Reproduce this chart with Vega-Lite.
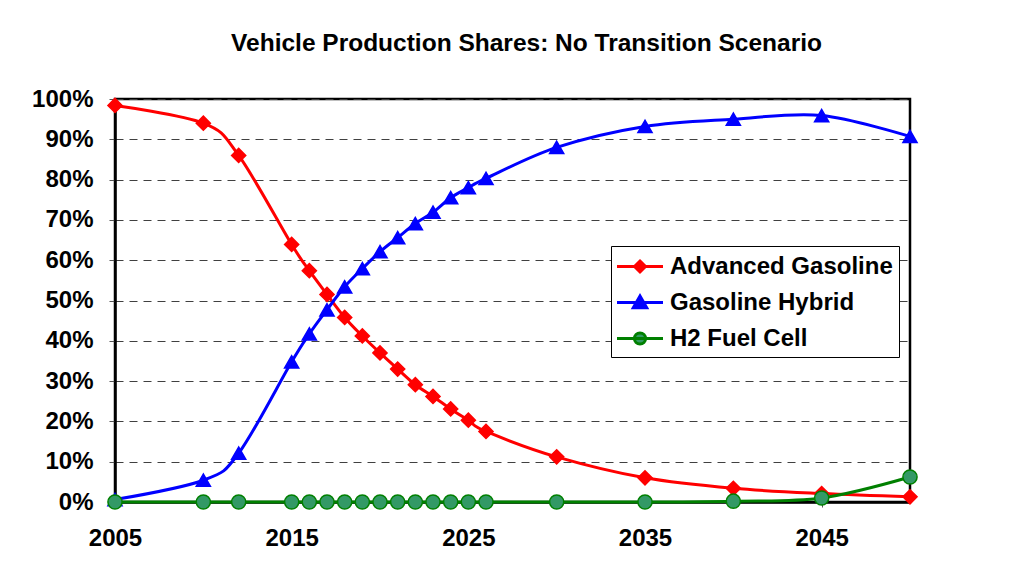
{
  "$schema": "https://vega.github.io/schema/vega-lite/v6.json",
  "width": 795,
  "height": 403,
  "autosize": {"type": "none"},
  "padding": {"left": 115, "top": 99, "right": 124, "bottom": 76},
  "background": "white",
  "title": {
    "text": "Vehicle Production Shares: No Transition Scenario",
    "font": "Liberation Sans",
    "fontSize": 24.5,
    "fontWeight": "bold",
    "color": "black",
    "anchor": "middle",
    "offset": 31,
    "dx": 14
  },
  "config": {
    "view": {"stroke": "black", "strokeWidth": 2.5},
    "axis": {
      "labelFont": "Liberation Sans",
      "labelFontSize": 24,
      "labelFontWeight": "bold",
      "labelColor": "black",
      "domainColor": "black",
      "domainWidth": 2.5,
      "tickColor": "#555555",
      "tickWidth": 1
    }
  },
  "data": {
    "values": [
      {"year": 2005, "series": "Advanced Gasoline", "share": 98.4},
      {"year": 2010, "series": "Advanced Gasoline", "share": 94.0},
      {"year": 2012, "series": "Advanced Gasoline", "share": 86.0},
      {"year": 2015, "series": "Advanced Gasoline", "share": 63.9},
      {"year": 2016, "series": "Advanced Gasoline", "share": 57.4},
      {"year": 2017, "series": "Advanced Gasoline", "share": 51.5},
      {"year": 2018, "series": "Advanced Gasoline", "share": 45.8},
      {"year": 2019, "series": "Advanced Gasoline", "share": 41.2},
      {"year": 2020, "series": "Advanced Gasoline", "share": 37.0},
      {"year": 2021, "series": "Advanced Gasoline", "share": 33.0},
      {"year": 2022, "series": "Advanced Gasoline", "share": 29.1},
      {"year": 2023, "series": "Advanced Gasoline", "share": 26.2},
      {"year": 2024, "series": "Advanced Gasoline", "share": 23.1},
      {"year": 2025, "series": "Advanced Gasoline", "share": 20.3},
      {"year": 2026, "series": "Advanced Gasoline", "share": 17.5},
      {"year": 2030, "series": "Advanced Gasoline", "share": 11.2},
      {"year": 2035, "series": "Advanced Gasoline", "share": 6.0},
      {"year": 2040, "series": "Advanced Gasoline", "share": 3.4},
      {"year": 2045, "series": "Advanced Gasoline", "share": 2.1},
      {"year": 2050, "series": "Advanced Gasoline", "share": 1.3},
      {"year": 2005, "series": "Gasoline Hybrid", "share": 0.6},
      {"year": 2010, "series": "Gasoline Hybrid", "share": 5.4},
      {"year": 2012, "series": "Gasoline Hybrid", "share": 12.1},
      {"year": 2015, "series": "Gasoline Hybrid", "share": 34.8},
      {"year": 2016, "series": "Gasoline Hybrid", "share": 41.7},
      {"year": 2017, "series": "Gasoline Hybrid", "share": 47.7},
      {"year": 2018, "series": "Gasoline Hybrid", "share": 53.4},
      {"year": 2019, "series": "Gasoline Hybrid", "share": 57.9},
      {"year": 2020, "series": "Gasoline Hybrid", "share": 62.1},
      {"year": 2021, "series": "Gasoline Hybrid", "share": 65.6},
      {"year": 2022, "series": "Gasoline Hybrid", "share": 69.1},
      {"year": 2023, "series": "Gasoline Hybrid", "share": 71.9},
      {"year": 2024, "series": "Gasoline Hybrid", "share": 75.5},
      {"year": 2025, "series": "Gasoline Hybrid", "share": 78.0},
      {"year": 2026, "series": "Gasoline Hybrid", "share": 80.3},
      {"year": 2030, "series": "Gasoline Hybrid", "share": 88.0},
      {"year": 2035, "series": "Gasoline Hybrid", "share": 93.2},
      {"year": 2040, "series": "Gasoline Hybrid", "share": 95.0},
      {"year": 2045, "series": "Gasoline Hybrid", "share": 95.9},
      {"year": 2050, "series": "Gasoline Hybrid", "share": 90.7},
      {"year": 2005, "series": "H2 Fuel Cell", "share": 0},
      {"year": 2010, "series": "H2 Fuel Cell", "share": 0},
      {"year": 2012, "series": "H2 Fuel Cell", "share": 0},
      {"year": 2015, "series": "H2 Fuel Cell", "share": 0},
      {"year": 2016, "series": "H2 Fuel Cell", "share": 0},
      {"year": 2017, "series": "H2 Fuel Cell", "share": 0},
      {"year": 2018, "series": "H2 Fuel Cell", "share": 0},
      {"year": 2019, "series": "H2 Fuel Cell", "share": 0},
      {"year": 2020, "series": "H2 Fuel Cell", "share": 0},
      {"year": 2021, "series": "H2 Fuel Cell", "share": 0},
      {"year": 2022, "series": "H2 Fuel Cell", "share": 0},
      {"year": 2023, "series": "H2 Fuel Cell", "share": 0},
      {"year": 2024, "series": "H2 Fuel Cell", "share": 0},
      {"year": 2025, "series": "H2 Fuel Cell", "share": 0},
      {"year": 2026, "series": "H2 Fuel Cell", "share": 0},
      {"year": 2030, "series": "H2 Fuel Cell", "share": 0},
      {"year": 2035, "series": "H2 Fuel Cell", "share": 0},
      {"year": 2040, "series": "H2 Fuel Cell", "share": 0.2},
      {"year": 2045, "series": "H2 Fuel Cell", "share": 1.0},
      {"year": 2050, "series": "H2 Fuel Cell", "share": 6.2}
    ]
  },
  "encoding": {
    "x": {
      "field": "year",
      "type": "quantitative",
      "scale": {"domain": [2005, 2050], "nice": false, "zero": false},
      "axis": {
        "values": [2005, 2015, 2025, 2035, 2045],
        "format": "d",
        "title": null,
        "grid": false,
        "tickSize": 5,
        "labelPadding": 19,
        "labelFlush": false
      }
    },
    "y": {
      "field": "share",
      "type": "quantitative",
      "scale": {"domain": [0, 100], "nice": false},
      "axis": {
        "values": [0, 10, 20, 30, 40, 50, 60, 70, 80, 90, 100],
        "labelExpr": "datum.value + '%'",
        "title": null,
        "grid": true,
        "gridColor": "#404040",
        "gridDash": [8, 6],
        "gridWidth": 1,
        "tickSize": 6,
        "labelPadding": 16
      }
    }
  },
  "layer": [
    {
      "mark": {"type": "line", "interpolate": "cardinal", "strokeWidth": 3, "clip": false},
      "encoding": {
        "color": {
          "field": "series",
          "type": "nominal",
          "scale": {
            "domain": ["Advanced Gasoline", "Gasoline Hybrid", "H2 Fuel Cell"],
            "range": ["#FF0000", "#0000FF", "#008000"]
          },
          "legend": {
            "orient": "none",
            "legendX": 496,
            "legendY": 147,
            "title": null,
            "labelFont": "Liberation Sans",
            "labelFontSize": 24,
            "labelFontWeight": "bold",
            "labelColor": "black",
            "labelLimit": 400,
            "symbolSize": 676,
            "symbolStrokeWidth": 3,
            "labelOffset": 24,
            "rowPadding": 9,
            "padding": 6,
            "strokeColor": "black",
            "fillColor": "white",
            "encoding": {
              "symbols": {
                "shape": {"value": {"expr": "datum.value === 'Advanced Gasoline' ? 'M-1.115,0L2.423,0M0.654,-0.42L1.074,0L0.654,0.42L0.234,0Z' : datum.value === 'Gasoline Hybrid' ? 'M-1.115,0L2.423,0M0.654,-0.5L1.17,0.4L0.138,0.4Z' : 'M-1.115,0L2.423,0M1.084,0A0.43,0.43,0,1,1,0.224,0A0.43,0.43,0,1,1,1.084,0Z'"}},
                "fill": {"value": {"expr": "datum.value === 'Advanced Gasoline' ? '#FF0000' : datum.value === 'Gasoline Hybrid' ? '#0000FF' : '#339966'"}},
                "stroke": {"value": {"expr": "datum.value === 'Advanced Gasoline' ? '#FF0000' : datum.value === 'Gasoline Hybrid' ? '#0000FF' : '#008000'"}},
                "fillOpacity": {"value": 1}
              }
            }
          }
        }
      }
    },
    {
      "mark": {"type": "point", "filled": true, "size": 200, "strokeWidth": 1.5, "opacity": 1, "clip": false},
      "encoding": {
        "shape": {
          "field": "series",
          "type": "nominal",
          "scale": {"range": ["diamond", "triangle-up", "circle"]},
          "legend": null
        },
        "fill": {
          "field": "series",
          "type": "nominal",
          "scale": {"range": ["#FF0000", "#0000FF", "#339966"]},
          "legend": null
        },
        "stroke": {
          "field": "series",
          "type": "nominal",
          "scale": {"range": ["#FF0000", "#0000FF", "#008000"]},
          "legend": null
        }
      }
    }
  ]
}
